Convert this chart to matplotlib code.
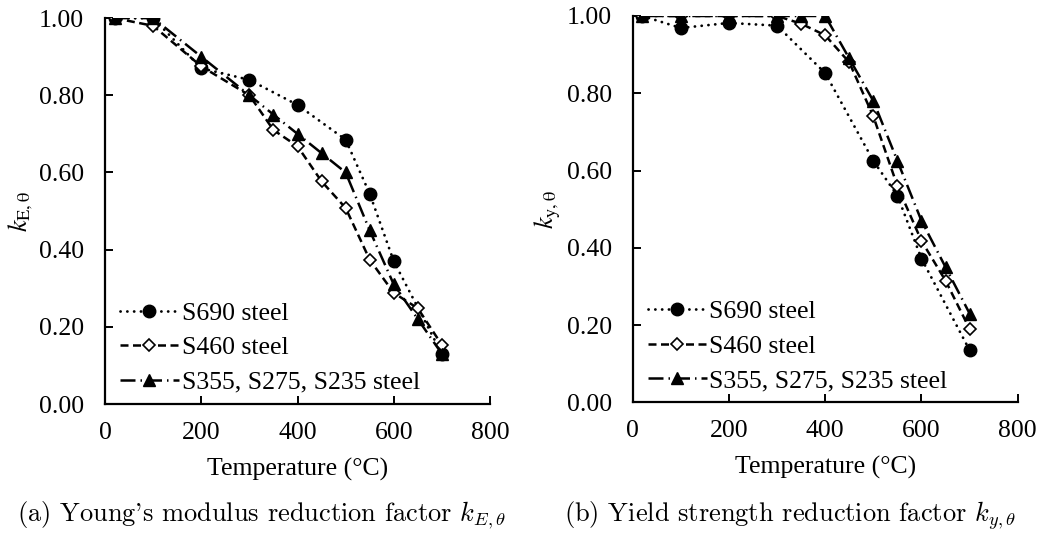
import matplotlib
matplotlib.use("Agg")
import matplotlib.pyplot as plt

plt.rcParams['font.family'] = ['Liberation Serif', 'DejaVu Serif']
plt.rcParams['mathtext.fontset'] = 'stix'

# Young's modulus reduction factors
temp_e_690 = [20, 100, 200, 300, 400, 500, 550, 600, 700]
ke_690 = [1.00, 1.00, 0.87, 0.84, 0.775, 0.685, 0.545, 0.37, 0.13]
temp_e_460 = [20, 100, 200, 300, 350, 400, 450, 500, 550, 600, 650, 700]
ke_460 = [1.00, 0.98, 0.875, 0.80, 0.71, 0.668, 0.577, 0.508, 0.374, 0.288, 0.248, 0.153]
temp_e_355 = [20, 100, 200, 300, 350, 400, 450, 500, 550, 600, 650, 700]
ke_355 = [1.00, 1.00, 0.90, 0.80, 0.75, 0.70, 0.65, 0.60, 0.45, 0.31, 0.22, 0.13]

# Yield strength reduction factors
temp_y_690 = [20, 100, 200, 300, 400, 500, 550, 600, 700]
ky_690 = [1.00, 0.969, 0.982, 0.975, 0.852, 0.625, 0.535, 0.372, 0.135]
temp_y_460 = [20, 100, 200, 300, 350, 400, 450, 500, 550, 600, 650, 700]
ky_460 = [1.00, 1.00, 1.00, 1.00, 0.98, 0.95, 0.88, 0.74, 0.56, 0.418, 0.315, 0.19]
temp_y_355 = [20, 100, 200, 300, 350, 400, 450, 500, 550, 600, 650, 700]
ky_355 = [1.00, 1.00, 1.00, 1.00, 1.00, 1.00, 0.89, 0.78, 0.625, 0.47, 0.35, 0.23]

labels = ['S690 steel', 'S460 steel', 'S355, S275, S235 steel']
x_ticks = [0, 200, 400, 600, 800]
y_ticks = [0.0, 0.2, 0.4, 0.6, 0.8, 1.0]

dotted = (0, (0.05, 2.4))
dashed = (0, (3.2, 1.8))
dashdot = (0, (6, 2, 0.6, 2))


def draw_panel(ax, series, ylabel):
    (t1, v1), (t2, v2), (t3, v3) = series
    ax.plot(t1, v1, color='black', linestyle=dotted, lw=2.0, dash_capstyle='round',
            marker='o', ms=9, mfc='black', mec='black', label=labels[0])
    ax.plot(t2, v2, color='black', linestyle=dashed, lw=1.8, marker='D', ms=6.5,
            mfc='white', mec='black', mew=1.2, label=labels[1])
    ax.plot(t3, v3, color='black', linestyle=dashdot, lw=1.8, marker='^', ms=9,
            mfc='black', mec='black', label=labels[2])
    ax.set_xlim(0, 800)
    ax.set_ylim(0, 1.0)
    ax.set_xticks(x_ticks)
    ax.set_yticks(y_ticks)
    ax.set_yticklabels([f'{v:.2f}' for v in y_ticks])
    for side in ('top', 'right'):
        ax.spines[side].set_visible(False)
    for side in ('left', 'bottom'):
        ax.spines[side].set_linewidth(1.6)
    ax.tick_params(direction='in', length=6, width=1.4, labelsize=18.5)
    ax.tick_params(axis='y', pad=15)
    ax.tick_params(axis='x', pad=13)
    ax.set_xlabel('Temperature (°C)', fontsize=18.5, labelpad=10)
    ax.set_ylabel(ylabel, fontsize=19, labelpad=3)
    ax.legend(loc='lower left', frameon=False, fontsize=18.5, handlelength=2.3,
              handletextpad=0.1, labelspacing=0.45, borderaxespad=0.0,
              bbox_to_anchor=(0.012, 0.0))


fig = plt.figure(figsize=(10.43, 5.33), dpi=100)
ax1 = fig.add_axes([0.1007, 0.242, 0.3691, 0.724])
ax2 = fig.add_axes([0.6066, 0.245, 0.3692, 0.725])

draw_panel(ax1, [(temp_e_690, ke_690), (temp_e_460, ke_460), (temp_e_355, ke_355)],
           r'$k_{\mathrm{E,\theta}}$')
draw_panel(ax2, [(temp_y_690, ky_690), (temp_y_460, ky_460), (temp_y_355, ky_355)],
           r'$k_{\mathrm{y,\theta}}$')

fig.text(0.251, 0.022, r"(a) Young's modulus reduction factor $k_{E,\theta}$",
         ha='center', fontsize=19, family='cmr10', math_fontfamily='cm')
fig.text(0.757, 0.022, r"(b) Yield strength reduction factor $k_{y,\theta}$",
         ha='center', fontsize=19, family='cmr10', math_fontfamily='cm')

fig.savefig('out.png', dpi=100)
